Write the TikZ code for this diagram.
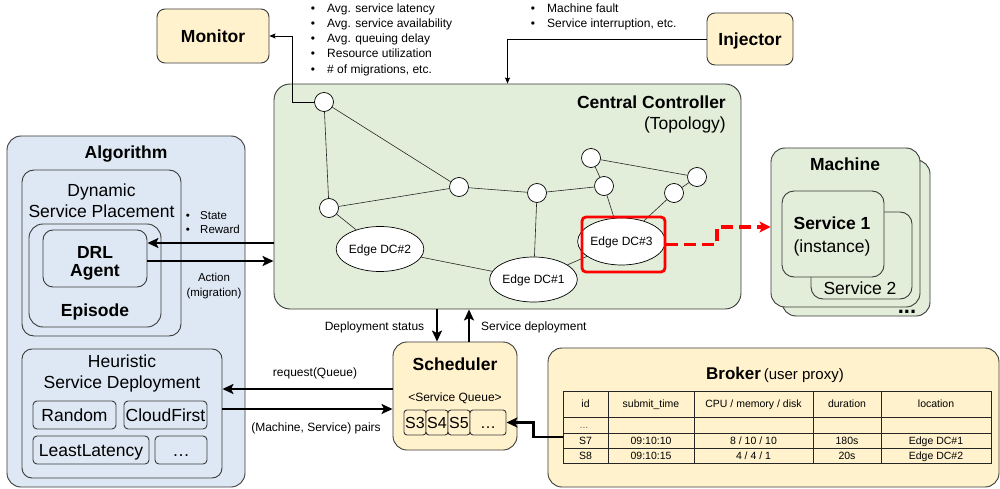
\documentclass[tikz,border=0pt]{standalone}
\usepackage{fontspec}
\setmainfont{Liberation Sans}
\usetikzlibrary{arrows.meta,shapes.geometric}
\definecolor{ofill}{HTML}{FFF2CC}
\definecolor{gfill}{HTML}{E2EED9}
\definecolor{bfill}{HTML}{DEE8F4}
\definecolor{bord}{HTML}{3A3A3A}
\newcommand\fL{\fontsize{17.5}{21}\selectfont}
\newcommand\fM{\fontsize{12}{15}\selectfont}
\newcommand\fS{\fontsize{11.5}{14}\selectfont}
\newcommand\fT{\fontsize{10.5}{12}\selectfont}
\newcommand\fQ{\fontsize{16}{19}\selectfont}
\begin{document}
\begin{tikzpicture}[x=1pt,y=-1pt,
  bx/.style={draw=bord, line width=0.9pt, inner sep=0pt},
  tL/.style={font=\fL, inner sep=0pt, text height=12.6pt, text depth=0pt},
  tLB/.style={tL, font=\fL\bfseries},
  tM/.style={font=\fM, inner sep=0pt, text height=8.6pt, text depth=0pt},
  tS/.style={font=\fS, inner sep=0pt, text height=8.2pt, text depth=0pt},
  tT/.style={font=\fT, inner sep=0pt, text height=7.6pt, text depth=0pt},
  tQ/.style={font=\fQ, inner sep=0pt, text height=11.5pt, text depth=0pt},
  circ/.style={circle, draw=black, fill=white, line width=0.7pt, minimum size=19pt, inner sep=0pt},
  ell/.style={ellipse, draw=black, fill=white, line width=0.7pt, minimum width=77pt, minimum height=45pt, tM},
  tedge/.style={line width=0.6pt, draw=black!85},
  tk/.style={line width=2.8pt, -{Stealth[length=11pt,width=10pt,inset=2.5pt]}},
  thinar/.style={line width=0.8pt, -{Stealth[length=6pt,width=5pt,inset=1pt]}},
  reddash/.style={draw=red, line width=3.2pt, dash pattern=on 12pt off 6pt, -{Stealth[length=11pt,width=11pt,inset=2.5pt]}},
  qc/.style={bx, fill=ofill, rounded corners=3pt, minimum height=25pt, tQ},
  hb/.style={bx, fill=bfill, rounded corners=4pt, minimum height=28pt, tL},
]
\useasboundingbox (0,0) rectangle (1000,489);

% ---------- Monitor / Injector ----------
\node[bx, fill=ofill, rounded corners=8pt, minimum width=112pt, minimum height=54pt, tLB] (monitor) at (213,36) {Monitor};
\node[bx, fill=ofill, rounded corners=8pt, minimum width=86pt, minimum height=52pt, tLB] (injector) at (750,39) {Injector};

\foreach \t [count=\i] in {{Avg. service latency},{Avg. service availability},{Avg. queuing delay},{Resource utilization},{\# of migrations, etc.}}{
  \node[tM] (mb\i) at (313,{8+15.2*(\i-1)}) {•};
  \node[tM, anchor=west] (mt\i) at (327,{8+15.2*(\i-1)}) {\t};
}
\foreach \t [count=\i] in {{Machine fault},{Service interruption, etc.}}{
  \node[tM] (ib\i) at (533,{8+15.2*(\i-1)}) {•};
  \node[tM, anchor=west] (it\i) at (547,{8+15.2*(\i-1)}) {\t};
}

% ---------- Central controller ----------
\node[bx, fill=gfill, rounded corners=16pt, minimum width=467pt, minimum height=225pt] (ctrl) at (507.5,196.5) {};
\node[tLB, anchor=east] (ctrlt) at (726,102) {Central Controller};
\node[tL, anchor=east] (ctrls) at (726,123) {(Topology)};

\node[circ] (c1) at (324,102) {};
\node[circ] (c2) at (329,208) {};
\node[circ] (c3) at (459,187) {};
\node[circ] (c4) at (537,193) {};
\node[circ] (c5) at (604,186) {};
\node[circ] (c6) at (591,158) {};
\node[circ] (c7) at (697,177) {};
\node[circ] (c8) at (674,193) {};
\node[ell] (dc2) at (380,249) {Edge DC\#2};
\node[ell] (dc1) at (533.5,279.5) {Edge DC\#1};
\node[ell, minimum height=47pt] (dc3) at (621.5,241.5) {Edge DC\#3};

\draw[tedge] (c1) -- (c3) (c1) -- (c2) (c2) -- (c3) (c2) -- (dc2)
  (c3) -- (c4) (c4) -- (c5) (c5) -- (c6) (c6) -- (c7) (c7) -- (c8)
  (c4) -- (dc1) (c5) -- (dc3) (c8) -- (dc3) (dc2) -- (dc1) (dc1) -- (dc3);

\node[draw=red, line width=2.8pt, rounded corners=4pt, minimum width=83pt, minimum height=55pt, inner sep=0pt] (redbox) at (623.5,244.5) {};

% ---------- Machine ----------
\node[bx, fill=gfill, rounded corners=14pt, minimum width=148pt, minimum height=156pt] (machb) at (856,238) {};
\node[bx, fill=gfill, rounded corners=14pt, minimum width=149pt, minimum height=159pt] (mach) at (845.5,227.5) {};
\node[tLB] (macht) at (845,164) {Machine};
\node[bx, fill=gfill, rounded corners=12pt, minimum width=101pt, minimum height=87pt] (s2) at (861.5,255.5) {};
\node[tL] (s2t) at (860,288) {Service 2};
\node[bx, fill=gfill, rounded corners=12pt, minimum width=102pt, minimum height=86pt] (s1) at (833,234) {};
\node[tLB] (s1t) at (832,223) {Service 1};
\node[tL] (s1s) at (832,246) {(instance)};
\node[font=\fontsize{22}{22}\selectfont\bfseries, inner sep=0pt, text height=3.2pt, text depth=0pt] (mdots) at (907,312) {...};

\coordinate (rk) at (717,227);
\draw[reddash] (redbox.east) -| (rk) -- (rk -| mach.west);

% ---------- Algorithm ----------
\node[bx, fill=bfill, rounded corners=14pt, minimum width=238pt, minimum height=351pt] (alg) at (126,311.5) {};
\node[tLB] (algt) at (126,152) {Algorithm};
\node[bx, fill=bfill, rounded corners=12pt, minimum width=159pt, minimum height=166pt] (dsp) at (101.5,253) {};
\node[tL] (dspt1) at (101.5,190) {Dynamic};
\node[tL] (dspt2) at (101.5,211) {Service Placement};
\node[bx, fill=bfill, rounded corners=14pt, minimum width=132pt, minimum height=103pt] (epi) at (95,275.5) {};
\node[tLB] (epit) at (95,310) {Episode};
\node[bx, fill=bfill, rounded corners=10pt, minimum width=104pt, minimum height=57pt] (drl) at (95,258.5) {};
\node[tLB] (drl1) at (95,252) {DRL};
\node[tLB] (drl2) at (95,270.5) {Agent};

\coordinate (sa) at ([yshift=15.5pt]drl.east);
\draw[tk] (sa -| ctrl.west) -- (sa);
\coordinate (aa) at ([yshift=-2.5pt]drl.east);
\draw[tk] (aa) -- (aa -| ctrl.west);

\node[tS] (sb1) at (188,215) {•};
\node[tS, anchor=west] (st1) at (200,215) {State};
\node[tS] (sb2) at (188,229) {•};
\node[tS, anchor=west] (st2) at (200,229) {Reward};
\node[tS] (act1) at (214,277) {Action};
\node[tS] (act2) at (214,292) {(migration)};

\node[bx, fill=bfill, rounded corners=10pt, minimum width=200pt, minimum height=129pt] (heur) at (122,413.5) {};
\node[tL] (heurt1) at (122,361) {Heuristic};
\node[tL] (heurt2) at (122,382) {Service Deployment};
\node[hb, minimum width=83pt] (rnd) at (74.5,415) {Random};
\node[hb, minimum width=83pt] (cf) at (165.5,415) {CloudFirst};
\node[hb, minimum width=116pt] (ll) at (91,450) {LeastLatency};
\node[hb, minimum width=52pt] (hd) at (181,450) {…};

% ---------- Scheduler ----------
\node[bx, fill=ofill, rounded corners=14pt, minimum width=124pt, minimum height=108pt] (sched) at (455,396) {};
\node[tLB] (schedt) at (455,364) {Scheduler};
\node[tM] (sq) at (455,397) {<Service Queue>};
\node[qc, minimum width=22pt] (q3) at (415,422.5) {S3};
\node[qc, minimum width=22pt] (q4) at (437,422.5) {S4};
\node[qc, minimum width=22pt] (q5) at (459,422.5) {S5};
\node[qc, minimum width=36pt] (qd) at (488,422.5) {…};

\coordinate (rq) at ([yshift=7pt]sched.west);
\draw[tk] (rq) -- (rq -| heur.east);
\coordinate (pq) at ([yshift=-13pt]sched.west);
\draw[tk] (pq -| heur.east) -- (pq);
\node[tM] (rql) at (315,372) {request(Queue)};
\node[tM] (pql) at (316,427) {(Machine, Service) pairs};

\coordinate (ds) at ([xshift=-18pt]sched.north);
\draw[tk] (ds |- ctrl.south) -- (ds);
\coordinate (sd) at ([xshift=14pt]sched.north);
\draw[tk] (sd) -- (sd |- ctrl.south);
\node[tM] (dsl) at (374.5,326) {Deployment status};
\node[tM, anchor=west] (sdl) at (481,326) {Service deployment};

% ---------- Broker ----------
\node[bx, fill=ofill, rounded corners=14pt, minimum width=451pt, minimum height=139pt] (broker) at (773.5,417.5) {};
\node[inner sep=0pt, text height=12.3pt, text depth=0pt] (brokt) at (775,373) {{\fontsize{17}{20}\selectfont\bfseries Broker} {\fontsize{15}{18}\selectfont (user proxy)}};
\node[draw=black!85, line width=0.9pt, minimum width=428pt, minimum height=72pt, inner sep=0pt] (tbl) at (777,427) {};
\draw[black!85, line width=0.8pt] (608,391) -- (608,463) (694,391) -- (694,463) (813,391) -- (813,463) (881,391) -- (881,463)
  (563,417) -- (991,417) (563,433) -- (991,433) (563,448) -- (991,448);
\node[tT] (ha) at (585.5,404) {id};
\node[tT] (hb) at (651,404) {submit\_time};
\node[tT] (hc) at (753.5,404) {CPU / memory / disk};
\node[tT] (hdur) at (847,404) {duration};
\node[tT] (he) at (936,404) {location};
\node[tT, text=black!60] (edots) at (584,425) {...};
\node[tT] (ra) at (585.5,440.5) {S7};
\node[tT] (rb) at (651,440.5) {09:10:10};
\node[tT] (rc) at (753.5,440.5) {8 / 10 / 10};
\node[tT] (rdur) at (847,440.5) {180s};
\node[tT] (re) at (936,440.5) {Edge DC\#1};
\node[tT] (sa8) at (585.5,455.5) {S8};
\node[tT] (sb8) at (651,455.5) {09:10:15};
\node[tT] (sc8) at (753.5,455.5) {4 / 4 / 1};
\node[tT] (sd8) at (847,455.5) {20s};
\node[tT] (se8) at (936,455.5) {Edge DC\#2};

\coordinate (bq) at ([yshift=-10pt]tbl.west);
\draw[tk] (bq) -- ++(-29,0) |- (qd.east);

% ---------- thin connectors ----------
\draw[thinar] (c1.west) -- ++(-22,0) |- (monitor.east);
\draw[thinar] (injector.west) -| (ctrl.north);
\end{tikzpicture}
\end{document}
